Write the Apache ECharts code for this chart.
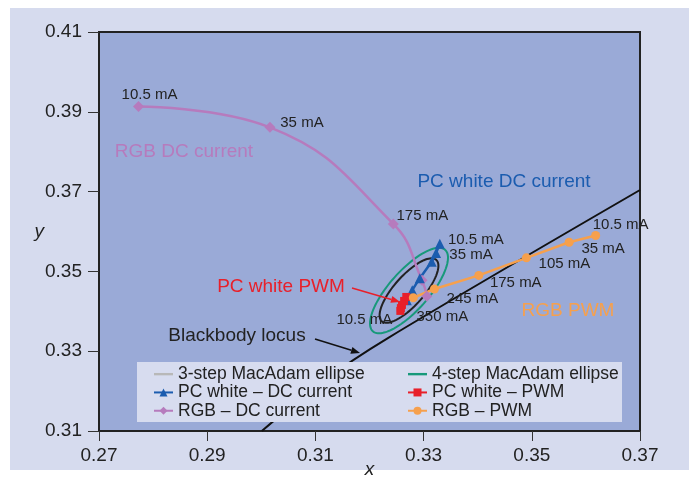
<!DOCTYPE html>
<html>
<head>
<meta charset="utf-8">
<script src="https://cdn.jsdelivr.net/npm/echarts@6/dist/echarts.min.js"></script>
<style>
  html, body { margin: 0; padding: 0; background: #ffffff; }
  #wrap { position: relative; width: 689px; height: 482px; }
  #panel { position: absolute; left: 10px; top: 8px; width: 679px; height: 462px; background: #d6dbee; }
  #chart { position: absolute; left: 0; top: 0; width: 689px; height: 482px; }
</style>
</head>
<body>
<div id="wrap"><div id="panel"></div><div id="chart"></div></div>
<script>
// Axis ticks
const xTicks = [0.27, 0.29, 0.31, 0.33, 0.35, 0.37];
const yTicks = [0.31, 0.33, 0.35, 0.37, 0.39, 0.41];

// RGB LED, DC current drive
const rgbDcCurrent = ['10.5 mA', '35 mA', '175 mA', '245 mA', '350 mA'];
const rgbDcX = [0.2773, 0.3016, 0.3244, 0.3297, 0.3306];
const rgbDcY = [0.3913, 0.3861, 0.3619, 0.3478, 0.3438];

// Phosphor-converted white LED, DC current drive
const pcDcCurrent = ['10.5 mA', '35 mA', '105 mA', '175 mA', '245 mA', '350 mA'];
const pcDcX = [0.3330, 0.3323, 0.3315, 0.3293, 0.3279, 0.3269];
const pcDcY = [0.3569, 0.3546, 0.3524, 0.3483, 0.3453, 0.3428];

// Phosphor-converted white LED, PWM drive
const pcPwmCurrent = ['350 mA', '245 mA', '175 mA', '105 mA', '10.5 mA'];
const pcPwmX = [0.3268, 0.3264, 0.3260, 0.3258, 0.3257];
const pcPwmY = [0.3436, 0.3426, 0.3416, 0.3408, 0.3401];

// RGB LED, PWM drive
const rgbPwmCurrent = ['10.5 mA', '35 mA', '105 mA', '175 mA', '245 mA', '350 mA'];
const rgbPwmX = [0.3618, 0.3569, 0.3490, 0.3402, 0.3320, 0.3281];
const rgbPwmY = [0.3590, 0.3573, 0.3534, 0.3490, 0.3456, 0.3434];

// Blackbody (Planckian) locus
const locusX = [0.3001, 0.3109, 0.3234, 0.3700];
const locusY = [0.3100, 0.3220, 0.3333, 0.3704];

// MacAdam ellipses: centre, semi-major length (along ellipseAngle) and axis ratio
const ellipseCenter = [0.3273, 0.3452];
const ellipse3Major = 0.0092;
const ellipse4Major = 0.0122;
const ellipseAngleDeg = 56.8;
const ellipseAxisRatio = 0.36;

const FONT = '"Liberation Sans", Arial, sans-serif';
const C = {
  rgbDc: '#b67bbd', pcDc: '#1b5caf', pcPwm: '#e8202a', rgbPwm: '#f6a04d',
  mac3: '#222222', mac3Legend: '#b8b8b8', mac4: '#17997a', text: '#222222'
};

// Label placement (pixel offsets from the marker centre); null = unlabelled
const labelOffsets = {
  rgbDc: [[11, -12], [32, -5], [29, -8], null, null],
  pcDc: [[36, -4], [35, 2], null, null, null, null],
  pcPwm: [null, null, null, null, [-36, 9]],
  rgbPwm: [[25, -11], [34, 7], [38, 6], [37, 7], [38, 10], [29, 19]]
};

function buildPoints(xs, ys, names, offs) {
  return xs.map((x, i) => ({
    value: [x, ys[i]],
    name: names[i],
    label: offs[i]
      ? { show: true, formatter: names[i], position: 'inside', offset: offs[i],
          color: C.text, fontSize: 15, fontFamily: FONT }
      : { show: false }
  }));
}

function ellipseRenderer(stroke) {
  const ang = ellipseAngleDeg * Math.PI / 180;
  return function (params, api) {
    const cx = api.value(0), cy = api.value(1), a = api.value(2);
    const c = api.coord([cx, cy]);
    const e = api.coord([cx + a * Math.cos(ang), cy + a * Math.sin(ang)]);
    const ux = e[0] - c[0], uy = e[1] - c[1];
    const vx = -uy * ellipseAxisRatio, vy = ux * ellipseAxisRatio;
    const pts = [];
    for (let k = 0; k < 96; k++) {
      const t = k / 96 * Math.PI * 2;
      pts.push([c[0] + ux * Math.cos(t) + vx * Math.sin(t), c[1] + uy * Math.cos(t) + vy * Math.sin(t)]);
    }
    return { type: 'polygon', shape: { points: pts }, style: { fill: 'none', stroke: stroke, lineWidth: 2 } };
  };
}

function arrow(x1, y1, x2, y2, color) {
  const ang = Math.atan2(y2 - y1, x2 - x1), L = 9, W = 3.5;
  const bx = x2 - L * Math.cos(ang), by = y2 - L * Math.sin(ang);
  return [
    { type: 'line', z: 6, shape: { x1: x1, y1: y1, x2: bx, y2: by }, style: { stroke: color, lineWidth: 1.5 } },
    { type: 'polygon', z: 6, shape: { points: [[x2, y2],
        [bx - W * Math.sin(ang), by + W * Math.cos(ang)],
        [bx + W * Math.sin(ang), by - W * Math.cos(ang)]] }, style: { fill: color } }
  ];
}

function note(text, x, y, color) {
  return { type: 'text', z: 6, x: x, y: y,
    style: { text: text, fill: color, font: '19px ' + FONT, align: 'center', verticalAlign: 'middle' } };
}

const chart = echarts.init(document.getElementById('chart'), null, { renderer: 'canvas' });

const legendText = { fontSize: 17.5, fontFamily: FONT, color: C.text, lineHeight: 18.3 };
const lineIcon = 'path://M0,0H20V2.5H0Z';

chart.setOption({
  backgroundColor: 'transparent',
  animation: false,
  grid: { left: 99, top: 32, right: 49, bottom: 51, show: true, containLabel: false,
          outerBoundsMode: 'none',
          backgroundColor: '#9aaad7', borderColor: '#222', borderWidth: 2 },
  xAxis: {
    type: 'value', min: 0.27, max: 0.37,
    name: 'x', nameLocation: 'middle', nameGap: 29, nameMoveOverlap: false,
    nameTextStyle: { fontStyle: 'italic', fontSize: 19, fontFamily: FONT, color: C.text },
    axisLine: { show: true, onZero: false, lineStyle: { color: '#222', width: 2 } },
    axisTick: { show: true, length: 10, customValues: xTicks, lineStyle: { color: '#333', width: 1 } },
    axisLabel: { customValues: xTicks, margin: 15, fontSize: 19, fontFamily: FONT, color: C.text,
                 formatter: v => v.toFixed(2) },
    splitLine: { show: false }
  },
  yAxis: {
    type: 'value', min: 0.31, max: 0.41,
    name: 'y', nameLocation: 'middle', nameGap: 55, nameRotate: 0, nameMoveOverlap: false,
    nameTextStyle: { fontStyle: 'italic', fontSize: 19, fontFamily: FONT, color: C.text },
    axisLine: { show: true, onZero: false, lineStyle: { color: '#222', width: 2 } },
    axisTick: { show: true, length: 11, customValues: yTicks, lineStyle: { color: '#333', width: 1 } },
    axisLabel: { customValues: yTicks, margin: 17, fontSize: 19, fontFamily: FONT, color: C.text,
                 formatter: v => v.toFixed(2) },
    splitLine: { show: false }
  },
  legend: [
    { orient: 'vertical', left: 153, top: 365, padding: 0, itemGap: 0, itemWidth: 19, itemHeight: 10,
      selectedMode: false, textStyle: legendText,
      data: [{ name: '3-step MacAdam ellipse', icon: lineIcon }, 'PC white – DC current', 'RGB – DC current'] },
    { orient: 'vertical', left: 407, top: 365, padding: 0, itemGap: 0, itemWidth: 19, itemHeight: 10,
      selectedMode: false, textStyle: legendText,
      data: [{ name: '4-step MacAdam ellipse', icon: lineIcon }, 'PC white – PWM', 'RGB – PWM'] }
  ],
  graphic: [
    { type: 'rect', z: 3, shape: { x: 137, y: 362, width: 485, height: 60 }, style: { fill: '#d7dcef' } },
    note('RGB DC current', 184, 152, C.rgbDc),
    note('PC white DC current', 504, 182, C.pcDc),
    note('PC white PWM', 281, 287, C.pcPwm),
    note('RGB PWM', 568, 311, C.rgbPwm),
    note('Blackbody locus', 237, 336, C.text),
    ...arrow(352, 288, 400, 302, C.pcPwm),
    ...arrow(315, 339, 360, 353, '#111')
  ],
  series: [
    { type: 'custom', name: '3-step MacAdam ellipse', z: 2, itemStyle: { color: C.mac3Legend },
      data: [[ellipseCenter[0], ellipseCenter[1], ellipse3Major]], renderItem: ellipseRenderer(C.mac3) },
    { type: 'custom', name: '4-step MacAdam ellipse', z: 2, itemStyle: { color: C.mac4 },
      data: [[ellipseCenter[0], ellipseCenter[1], ellipse4Major]], renderItem: ellipseRenderer(C.mac4) },
    { type: 'line', name: 'Blackbody locus', z: 2, smooth: 0.3, showSymbol: false, silent: true,
      data: locusX.map((x, i) => [x, locusY[i]]), lineStyle: { color: '#111', width: 2 } },
    { type: 'line', name: 'RGB – DC current', z: 3, smooth: 0.45, symbol: 'diamond', symbolSize: 11,
      data: buildPoints(rgbDcX, rgbDcY, rgbDcCurrent, labelOffsets.rgbDc),
      itemStyle: { color: C.rgbDc }, lineStyle: { color: C.rgbDc, width: 2.5 } },
    { type: 'line', name: 'PC white – DC current', z: 3, symbol: 'triangle', symbolSize: 10,
      data: buildPoints(pcDcX, pcDcY, pcDcCurrent, labelOffsets.pcDc),
      itemStyle: { color: C.pcDc }, lineStyle: { color: C.pcDc, width: 2.5 } },
    { type: 'line', name: 'PC white – PWM', z: 3, symbol: 'rect', symbolSize: 8,
      data: buildPoints(pcPwmX, pcPwmY, pcPwmCurrent, labelOffsets.pcPwm),
      itemStyle: { color: C.pcPwm }, lineStyle: { color: C.pcPwm, width: 2.5 } },
    { type: 'line', name: 'RGB – PWM', z: 3, symbol: 'circle', symbolSize: 9,
      data: buildPoints(rgbPwmX, rgbPwmY, rgbPwmCurrent, labelOffsets.rgbPwm),
      itemStyle: { color: C.rgbPwm }, lineStyle: { color: C.rgbPwm, width: 2.5 } }
  ]
});
</script>
</body>
</html>
